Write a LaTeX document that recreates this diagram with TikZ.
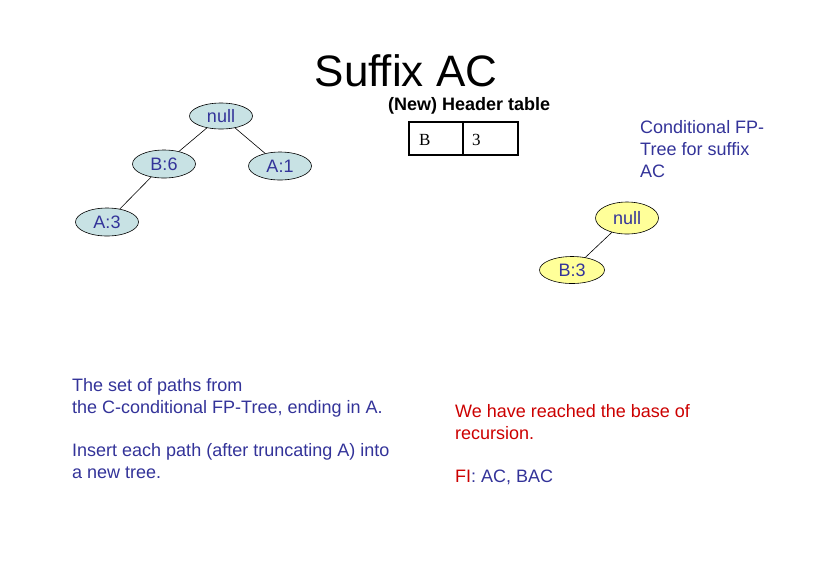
\documentclass[tikz,border=0pt]{standalone}
\usepackage{fontspec}
\setmainfont{Liberation Sans}
\newfontfamily\seriffont{Liberation Serif}
\usetikzlibrary{shapes.geometric}
\definecolor{txtblue}{RGB}{51,51,153}
\definecolor{txtred}{RGB}{204,0,0}
\definecolor{nodeblue}{RGB}{200,226,228}
\definecolor{nodeyellow}{RGB}{255,255,153}
\tikzset{
  fptree/.style={ellipse, draw=black, line width=0.6pt, inner sep=0pt,
    minimum width=63pt, minimum height=28pt, text=txtblue,
    font=\fontsize{18}{20}\selectfont},
  bluenode/.style={fptree, fill=nodeblue},
  yellownode/.style={fptree, fill=nodeyellow},
  edge/.style={draw=black, line width=0.6pt},
  para/.style={anchor=base west, align=left, inner sep=0pt,
    font=\fontsize{18}{22}\selectfont},
}
\begin{document}
\begin{tikzpicture}[x=1pt,y=-1pt]
\useasboundingbox (0,0) rectangle (813,566);
% title
\node[anchor=base, inner sep=0pt, font=\fontsize{44}{50}\selectfont] (title) at (406,86) {Suffix AC};
% left tree
\node[bluenode, minimum height=26pt] (null1) at (221,116) {null};
\node[bluenode] (b6) at (164,164) {B:6};
\node[bluenode] (a1) at (280,166) {A:1};
\node[bluenode] (a3) at (107,222) {A:3};
\draw[edge] (null1) -- (b6);
\draw[edge] (null1) -- (a1);
\draw[edge] (b6) -- (a3);
% header table
\node[anchor=base west, inner sep=0pt, font=\bfseries\fontsize{18}{20}\selectfont] (htitle) at (388,110) {(New) Header table};
\draw[line width=2pt] (409,122) rectangle (518,155);
\draw[line width=1.5pt] (463,122) -- (463,155);
\node[anchor=base west, inner sep=0pt, font=\seriffont\fontsize{17}{20}\selectfont] (hb) at (419,145) {B};
\node[anchor=base west, inner sep=0pt, font=\seriffont\fontsize{17}{20}\selectfont] (h3) at (472,145) {3};
% conditional tree caption (anchor at baseline of last line)
\node[para, text=txtblue] (cond) at (640,177) {Conditional FP-\\Tree for suffix\\AC};
% right tree
\node[yellownode, minimum height=32pt] (null2) at (627,218) {null};
\node[yellownode, minimum width=65pt, minimum height=27pt] (b3) at (572,270) {B:3};
\draw[edge] (null2) -- (b3);
% bottom left text
\node[para, text=txtblue] (paths) at (72,413) {The set of paths from\\the C-conditional FP-Tree, ending in A.};
\node[para, text=txtblue] (insert) at (72,478) {Insert each path (after truncating A) into\\a new tree.};
% bottom right text
\node[para, text=txtred] (base) at (455,439) {We have reached the base of\\recursion.};
\node[para] (fi) at (455,482) {\textcolor{txtred}{FI}\textcolor{txtblue}{: AC, BAC}};
\end{tikzpicture}
\end{document}
